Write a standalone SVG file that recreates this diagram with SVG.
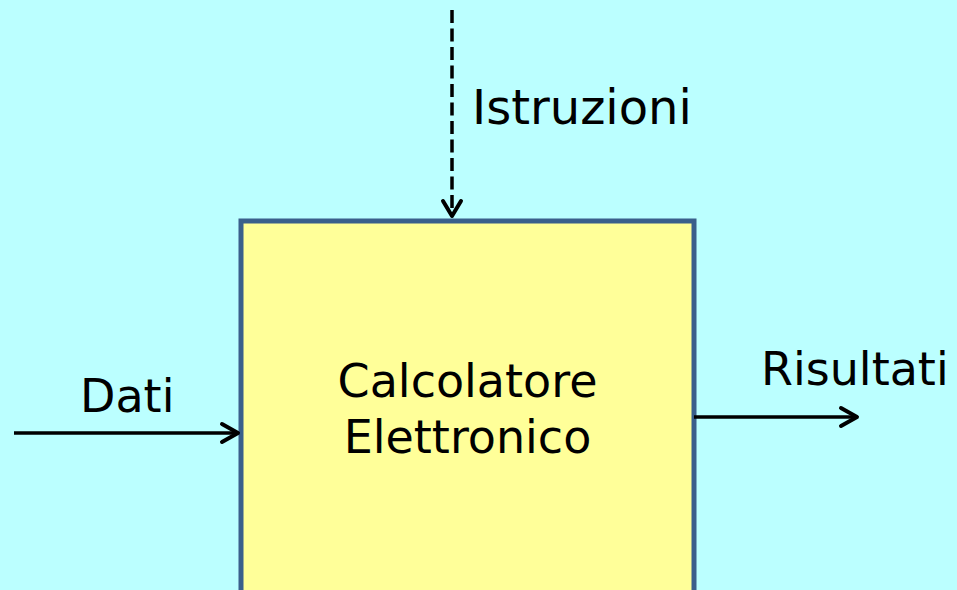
<svg xmlns="http://www.w3.org/2000/svg" width="957" height="590" viewBox="0 0 957 590">
<style>
text{font-family:"DejaVu Sans","Verdana",sans-serif;font-size:46px;fill:#000}
.ln{stroke:#000;stroke-width:3.5;fill:none}
.hd{stroke:#000;stroke-width:4;fill:none;stroke-linecap:round;stroke-linejoin:round}
</style>
<rect x="0" y="0" width="957" height="590" fill="#BBFFFF"/>
<g id="calcolatore">
<rect x="241" y="221" width="453" height="400" fill="#FFFF99" stroke="#3A5F8B" stroke-width="5"/>
<text x="467.5" y="397" text-anchor="middle">Calcolatore</text>
<text x="467.5" y="453" text-anchor="middle">Elettronico</text>
</g>
<g id="connectors">
<line class="ln" x1="452" y1="10" x2="452" y2="214" stroke-width="4" stroke-dasharray="13 5.5"/>
<polyline class="hd" points="443,201 452,216 461,201"/>
<line class="ln" x1="14" y1="433" x2="238" y2="433"/>
<polyline class="hd" points="222,424 238,433 222,442"/>
<line class="ln" x1="694" y1="417" x2="857" y2="417"/>
<polyline class="hd" points="841,408 857,417 841,426"/>
</g>
<g id="labels">
<text x="472" y="124" style="font-size:48px">Istruzioni</text>
<text x="80" y="412">Dati</text>
<text x="761" y="385">Risultati</text>
</g>
</svg>
